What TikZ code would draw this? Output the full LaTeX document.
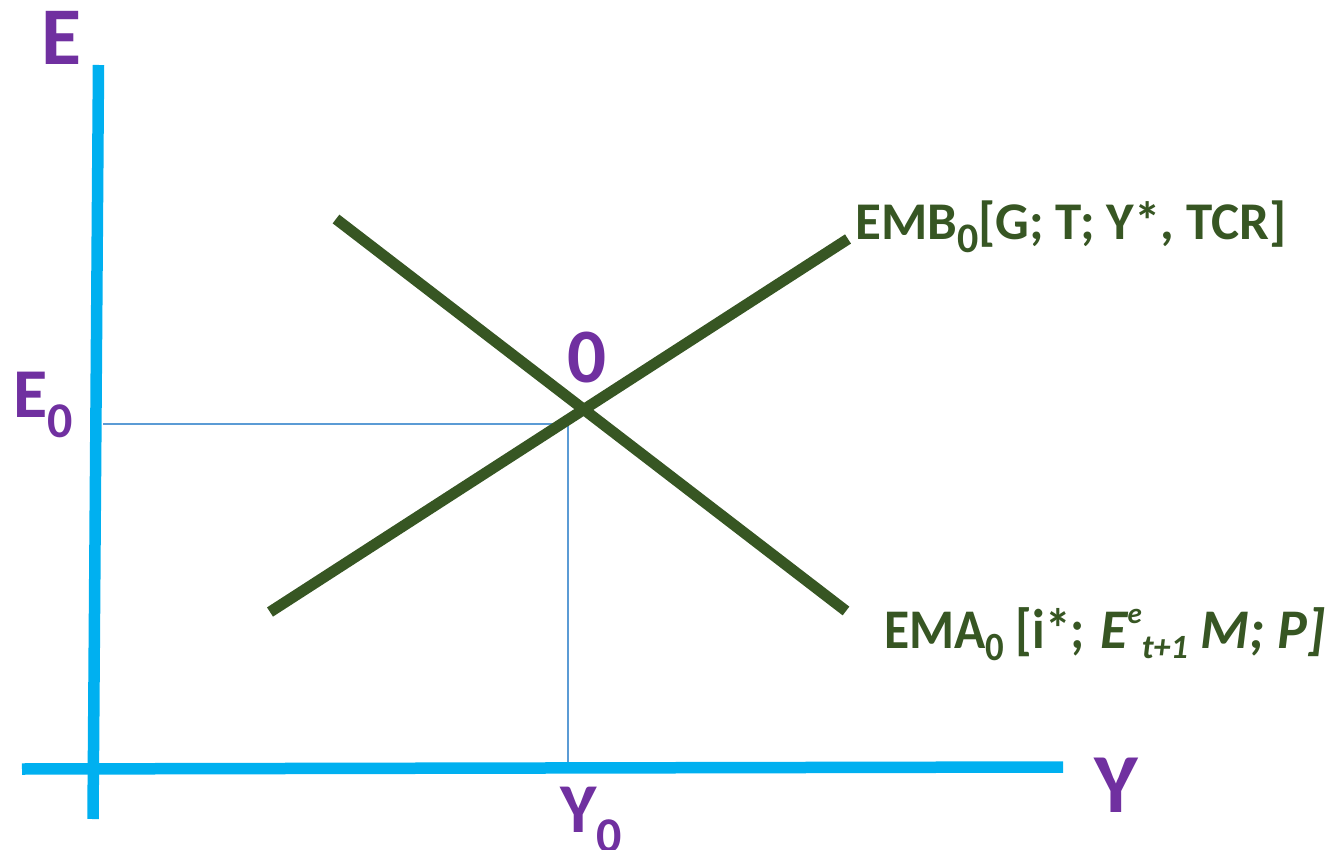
\documentclass[tikz,border=0pt]{standalone}
\usepackage{fontspec}
\setmainfont{Carlito}
\definecolor{axisblue}{HTML}{00B0F0}
\definecolor{guideblue}{HTML}{5B9BD5}
\definecolor{curvegreen}{HTML}{375623}
\definecolor{purp}{HTML}{7030A0}
\newcommand{\fsz}[1]{\fontsize{#1}{#1}\selectfont}
\newcommand{\lowsub}[3]{{\fsz{#1}\raisebox{-#2pt}{#3}}}
\begin{document}
\begin{tikzpicture}[x=1pt,y=-1pt,
  axis/.style={draw=axisblue,line width=11.5pt},
  curve/.style={draw=curvegreen,line width=11pt},
  guide/.style={draw=guideblue,line width=1.5pt},
  lbl/.style={inner sep=0pt,anchor=base west}]
\useasboundingbox (0,0) rectangle (1325,850);
% coordinates
\coordinate (vtop) at (98.5,65);
\coordinate (vbot) at (93,819);
\coordinate (hl) at (22,769);
\coordinate (hr) at (1063,767);
\coordinate (ga) at (103,424);
\coordinate (gc) at (568,424);
\coordinate (gb) at (568,763);
\coordinate (a1) at (336,219);
\coordinate (a2) at (846,611);
\coordinate (b1) at (270,612);
\coordinate (b2) at (848,239);
% guides
\draw[guide] (ga) -- (gc) -- (gb);
% axes
\draw[axis] (vtop) -- (vbot);
\draw[axis] (hl) -- (hr);
% curves
\draw[curve] (a1) -- (a2);
\draw[curve] (b1) -- (b2);
% labels
\node[lbl,text=purp,font=\bfseries\fsz{82}] (lE) at (41,65) {E};
\node[lbl,text=purp,font=\bfseries\fsz{70}] (lE0) at (13,417) {E\lowsub{50}{20}{0}};
\node[lbl,text=purp,font=\bfseries\fsz{70}] (lY0) at (560,832) {Y\lowsub{50}{20}{0}};
\node[lbl,text=purp,font=\bfseries\fsz{84}] (lY) at (1094,812) {Y};
\node[lbl,text=purp,font=\bfseries\fsz{77}] (lO) at (567,382) {0};
\node[lbl,text=curvegreen,font=\bfseries\fsz{53}] (lEMB) at (855,240) {EMB\lowsub{42}{13}{0}[G; T; Y*, TCR]};
\node[lbl,text=curvegreen,font=\bfseries\fsz{56}] (lEMA) at (884,648) {\scalebox{0.92}[1]{EMA\lowsub{40}{12}{0} [i*;}};
\node[lbl,text=curvegreen,font=\bfseries\itshape\fsz{56}] (lEMAb) at (1100,648) {E{\fsz{29}\raisebox{25pt}{e}}{\fsz{34}\raisebox{-10pt}{t+1}} M; P]};
\end{tikzpicture}
\end{document}
